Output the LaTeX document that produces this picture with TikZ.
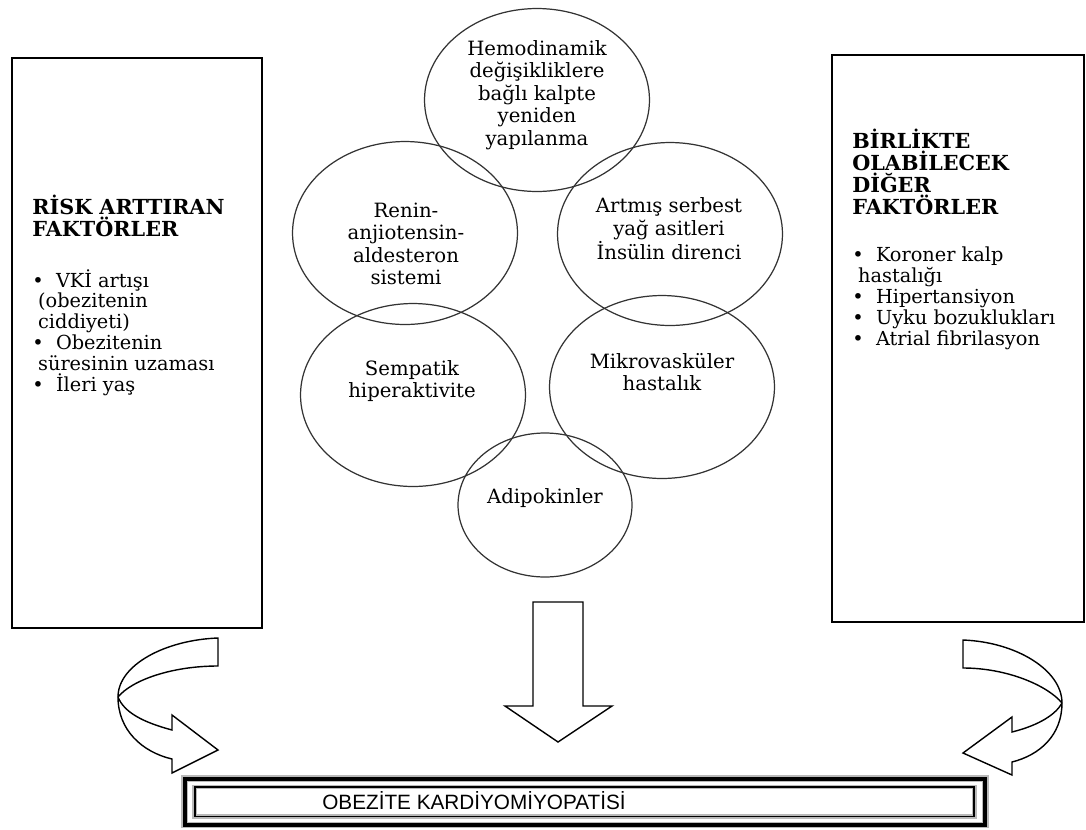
\documentclass[tikz,border=0pt]{standalone}
\usepackage{fontspec}
\setmainfont{DejaVu Serif}
\newfontfamily\headfont{Liberation Sans}
\usetikzlibrary{shapes.geometric}

\tikzset{
  bubble/.style={ellipse, draw=black!80, line width=0.7pt, minimum width=4.5cm, minimum height=3.66cm, inner sep=0pt},
  bubtext/.style={align=center, inner sep=0pt, font=\fontsize{11.2}{12.8}\selectfont},
  sidebox/.style={draw=black, line width=1.6pt, inner sep=0pt},
  sidehead/.style={align=left, anchor=north west, inner sep=0pt, font=\bfseries\fontsize{11.8}{12.4}\selectfont},
  sidelist/.style={align=left, anchor=north west, inner sep=0pt, font=\fontsize{11}{11.9}\selectfont},
  blockarrow/.style={draw=black, line width=0.8pt, fill=white, line join=miter},
}

\begin{document}
\begin{tikzpicture}[x=0.02cm, y=-0.02cm]
\useasboundingbox (0,0) rectangle (1086,829);

% Draw side boxes
\node[sidebox, minimum width=5cm, minimum height=11.4cm] (riskbox) at (137,343) {};
\node[sidebox, minimum width=5.04cm, minimum height=11.34cm] (otherbox) at (958,338.5) {};

\node[sidehead] (riskhead) at (32,195) {RİSK ARTTIRAN\\FAKTÖRLER};
\node[sidelist] (risklist) at ([yshift=-18pt]riskhead.south west) {\textbullet\ \ VKİ artışı\\\hspace*{0.3em}(obezitenin\\\hspace*{0.3em}ciddiyeti)\\
  \textbullet\ \ Obezitenin\\\hspace*{0.3em}süresinin uzaması\\
  \textbullet\ \ İleri yaş};
\node[sidehead] (otherhead) at (852,129) {BİRLİKTE\\OLABİLECEK\\DİĞER\\FAKTÖRLER};
\node[sidelist] (otherlist) at ([yshift=-18pt]otherhead.south west) {\textbullet\ \ Koroner kalp\\\hspace*{0.3em}hastalığı\\
  \textbullet\ \ Hipertansiyon\\
  \textbullet\ \ Uyku bozuklukları\\
  \textbullet\ \ Atrial fibrilasyon};

% Draw mechanisms
\node[bubble] (hemo) at (537,100) {};
\node[bubble] (renin) at (405,233) {};
\node[bubble] (yag) at (670,234) {};
\node[bubble] (semp) at (413,395) {};
\node[bubble] (mikro) at (662,387) {};
\node[bubble, minimum width=3.48cm, minimum height=2.88cm] (adipo) at (545,505) {};

\node[bubtext] at (537,95) {Hemodinamik\\değişikliklere\\bağlı kalpte\\yeniden\\yapılanma};
\node[bubtext] at (406,244) {Renin-\\anjiotensin-\\aldesteron\\sistemi};
\node[bubtext] at (669,229) {Artmış serbest\\yağ asitleri\\İnsülin direnci};
\node[bubtext] at (412,381) {Sempatik\\hiperaktivite};
\node[bubtext] at (662,372) {Mikrovasküler\\hastalık};
\node[bubtext] at (545,498) {Adipokinler};

% Result
\node[draw=black, line width=1.1pt, preaction={draw=gray!55, line width=2.4pt},
  minimum width=15.6cm, minimum height=0.59cm, inner sep=0pt] (obez) at (584.5,801.75) {};
\draw[black, line width=2.3pt, preaction={draw=gray!55, line width=3.8pt}]
  ([xshift=-5.1pt,yshift=4.25pt]obez.north west) rectangle ([xshift=5.7pt,yshift=-4.25pt]obez.south east);
\node[inner sep=0pt, font=\headfont\fontsize{11.8}{13}\selectfont] (obeztxt) at (474,801) {OBEZİTE KARDİYOMİYOPATİSİ};

% Block arrows
\draw[blockarrow] (533,602) -- (583,602) -- (583,706) -- (612,706) -- (558,742) -- (505,706) -- (533,706) -- cycle;

\draw[blockarrow] (218,638) .. controls (165,640) and (118,665) .. (118,697)
  .. controls (118,730) and (142,752) .. (172,759) -- (172,773) -- (218,750) -- (172,715) -- (172,730)
  .. controls (142,722) and (124,712) .. (118,697)
  .. controls (132,680) and (172,666) .. (218,666) -- cycle;
\draw[blockarrow] (963,640) .. controls (1016,642) and (1062,670) .. (1062,703)
  .. controls (1062,735) and (1040,755) .. (1012,762) -- (1012,775) -- (963,753) -- (1012,717) -- (1012,732)
  .. controls (1040,725) and (1056,714) .. (1062,703)
  .. controls (1048,686) and (1008,668) .. (963,668) -- cycle;

\end{tikzpicture}
\end{document}
